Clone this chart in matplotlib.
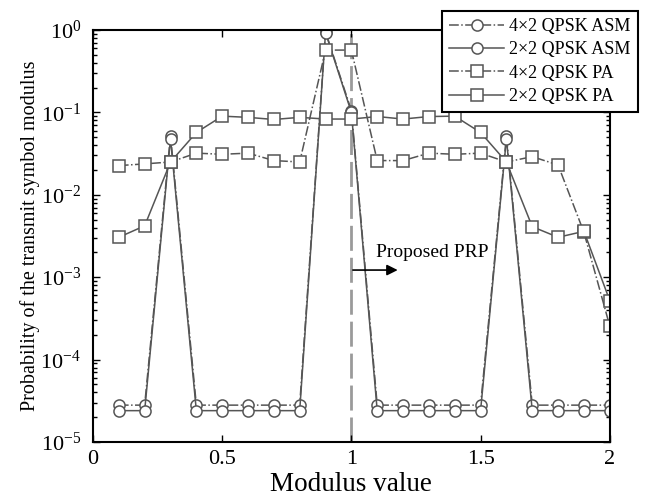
import numpy as np
import matplotlib
matplotlib.use('Agg')
import matplotlib.pyplot as plt
from matplotlib.ticker import LogLocator, NullFormatter

plt.rcParams['font.family'] = ['Liberation Serif', 'DejaVu Serif']
plt.rcParams['mathtext.fontset'] = 'stix'

# modulus values
modulus = [0.1, 0.2, 0.3, 0.4, 0.5, 0.6, 0.7, 0.8, 0.9, 1.0,
           1.1, 1.2, 1.3, 1.4, 1.5, 1.6, 1.7, 1.8, 1.9, 2.0]

# probabilities
asm_4x2 = [2.8e-5, 2.8e-5, 0.052, 2.8e-5, 2.8e-5, 2.8e-5, 2.8e-5, 2.8e-5, 0.95, 0.105,
           2.8e-5, 2.8e-5, 2.8e-5, 2.8e-5, 2.8e-5, 0.051, 2.8e-5, 2.8e-5, 2.8e-5, 2.8e-5]
asm_2x2 = [2.4e-5, 2.4e-5, 0.048, 2.4e-5, 2.4e-5, 2.4e-5, 2.4e-5, 2.4e-5, 0.93, 0.1,
           2.4e-5, 2.4e-5, 2.4e-5, 2.4e-5, 2.4e-5, 0.048, 2.4e-5, 2.4e-5, 2.4e-5, 2.4e-5]
pa_4x2 = [0.0226, 0.0237, 0.025, 0.032, 0.031, 0.032, 0.026, 0.025, 0.57, 0.57,
          0.026, 0.026, 0.032, 0.031, 0.032, 0.025, 0.029, 0.023, 3.5e-3, 2.55e-4]
pa_2x2 = [3.05e-3, 4.2e-3, 0.025, 0.057, 0.090, 0.087, 0.082, 0.087, 0.083, 0.083,
          0.089, 0.083, 0.089, 0.090, 0.057, 0.025, 4.1e-3, 3.05e-3, 3.6e-3, 5.2e-4]

labels = ['4\u00d72 QPSK ASM', '2\u00d72 QPSK ASM', '4\u00d72 QPSK PA', '2\u00d72 QPSK PA']

fig = plt.figure(figsize=(6.48, 4.97), dpi=100)
ax = fig.add_axes([0.1435, 0.1107, 0.7975, 0.829])

c = '#555555'
common = dict(color=c, lw=1.1, markersize=8, markerfacecolor='white',
              markeredgecolor=c, markeredgewidth=1.1)

ax.axvline(1.0, color='#9a9a9a', lw=2, dashes=(9, 2.5), zorder=1)

ax.semilogy(modulus, asm_4x2, linestyle='-.', marker='o', label=labels[0], **common)
ax.semilogy(modulus, asm_2x2, linestyle='-', marker='o', label=labels[1], **common)
ax.semilogy(modulus, pa_4x2, linestyle='-.', marker='s', label=labels[2], **common)
ax.semilogy(modulus, pa_2x2, linestyle='-', marker='s', label=labels[3], **common)

ax.set_xlim(0, 2)
ax.set_ylim(1e-5, 1)
ax.set_xticks([0, 0.5, 1, 1.5, 2])
ax.set_xticklabels(['0', '0.5', '1', '1.5', '2'])
ax.yaxis.set_major_locator(LogLocator(base=10, numticks=10))
ax.yaxis.set_minor_locator(LogLocator(base=10, subs=np.arange(2, 10), numticks=10))
ax.yaxis.set_minor_formatter(NullFormatter())
ax.tick_params(which='both', direction='in', top=True, right=True, labelsize=16, width=1.0)
ax.tick_params(which='major', length=5)
ax.tick_params(which='minor', length=3)
ax.tick_params(axis='x', which='major', pad=6)
ax.tick_params(axis='y', which='major', pad=8.5)
for s in ax.spines.values():
    s.set_linewidth(1.5)

ax.set_xlabel('Modulus value', fontsize=19.5, labelpad=2)
ax.set_ylabel('Probability of the transmit symbol modulus', fontsize=14.5, labelpad=0)

# annotation
ax.text(1.095, 1.97e-3, 'Proposed PRP', fontsize=14, va='center', ha='left')
ax.annotate('', xy=(1.19, 1.22e-3), xytext=(0.995, 1.22e-3),
            arrowprops=dict(arrowstyle='-|>', color='black', lw=1.2, mutation_scale=16))

leg = fig.legend(loc='upper right', bbox_to_anchor=(0.984, 0.978), fontsize=13,
                 frameon=True, fancybox=False, edgecolor='black', framealpha=1,
                 handlelength=3.0, labelspacing=0.35, borderpad=0.4, handletextpad=0.3,
                 borderaxespad=0)
leg.get_frame().set_linewidth(1.5)

fig.savefig('out.png', dpi=100)
